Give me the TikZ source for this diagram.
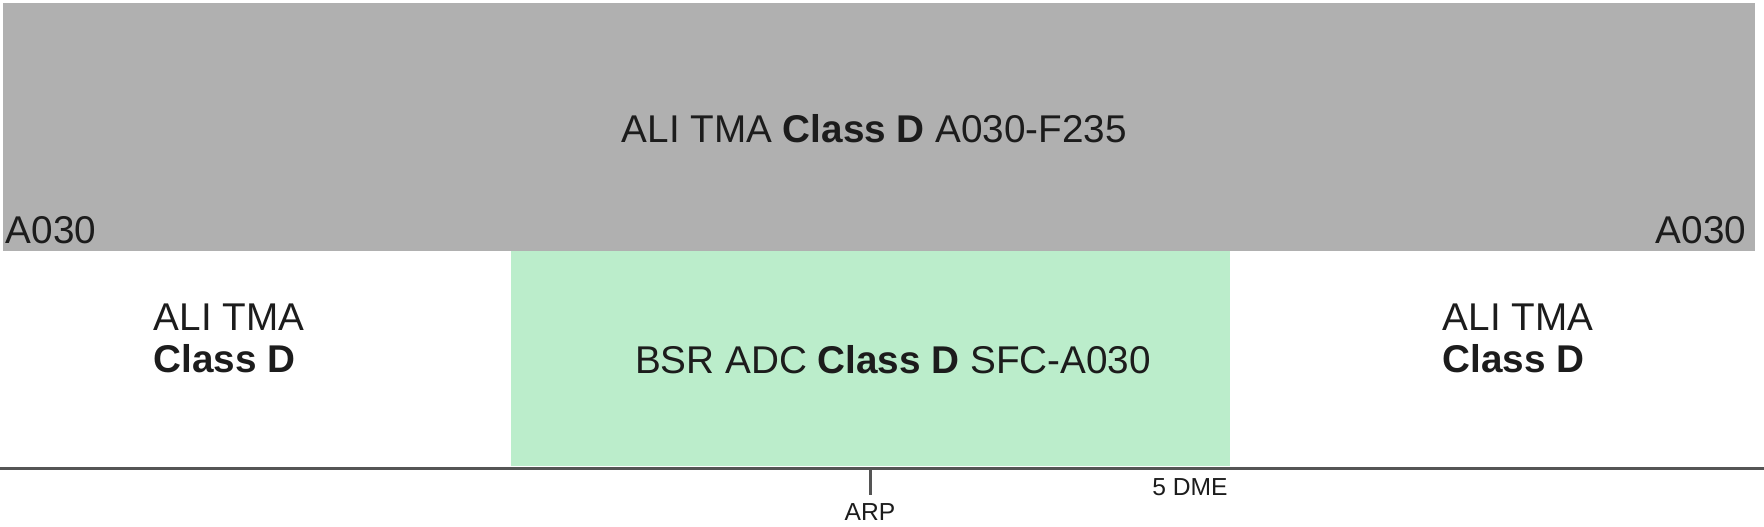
\documentclass[tikz,border=0pt]{standalone}
\usepackage{fontspec}
\setmainfont{Liberation Sans}
\definecolor{tmagray}{HTML}{B0B0B0}
\definecolor{adcgreen}{HTML}{BBEDCB}
\definecolor{ink}{HTML}{1C1C1C}
\definecolor{groundgray}{HTML}{555555}
\begin{document}
\begin{tikzpicture}[x=0.01cm,y=-0.01cm,
    lbl/.style={text=ink,inner sep=0pt,font=\fontsize{11}{13}\selectfont},
    tiny/.style={text=ink,inner sep=0pt,font=\fontsize{7}{8}\selectfont}]
  \useasboundingbox (0,0) rectangle (1764,526);
  % airspace blocks
  \fill[tmagray] (3,3) rectangle (1755,251);
  \fill[adcgreen] (511,251) rectangle (1230,466);
  \node[lbl,anchor=base west] (tma) at (621,142) {ALI TMA \textbf{Class D} A030-F235};
  \node[lbl,anchor=base west] (lowl) at (5,243) {A030};
  \node[lbl,anchor=base east] (lowr) at (1747,243) {A030};
  \node[lbl,anchor=base west] (tmal) at (153,330) {ALI TMA};
  \node[lbl,anchor=base west] (classl) at (153,372) {\textbf{Class D}};
  \node[lbl,anchor=base west] (tmar) at (1442,330) {ALI TMA};
  \node[lbl,anchor=base west] (classr) at (1442,372) {\textbf{Class D}};
  \node[lbl,anchor=base] (adc) at (893,373) {BSR ADC \textbf{Class D} SFC-A030};
  % ground and ARP
  \coordinate (gl) at (0,468);
  \coordinate (gr) at (1764,468);
  \coordinate (arp) at (870,468);
  \draw[groundgray,line width=0.85pt] (gl) -- (gr);
  \draw[groundgray,line width=0.85pt] (arp) -- ++(0,27);
  \node[tiny,anchor=base] (arplbl) at (870,520) {ARP};
  \node[tiny,anchor=base] (dme) at (1190,495) {5 DME};
\end{tikzpicture}
\end{document}
